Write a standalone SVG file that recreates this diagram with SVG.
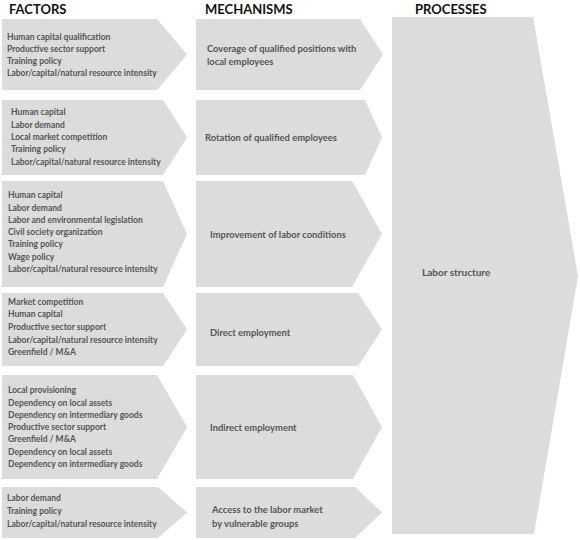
<svg xmlns="http://www.w3.org/2000/svg" width="580" height="540" viewBox="0 0 580 540">
<style>
.bg{fill:#ffffff}
.box{fill:#dcdcdc}
.title{font-family:Lato,"Liberation Sans",sans-serif;font-weight:700;font-size:13px;fill:#111111}
.t{font-family:Lato,"Liberation Sans",sans-serif;font-weight:700;font-size:8.5px;fill:#555555}
.m{font-family:Lato,"Liberation Sans",sans-serif;font-weight:700;font-size:9.4px;fill:#555555}
.p{font-family:Lato,"Liberation Sans",sans-serif;font-weight:700;font-size:10px;fill:#555555}
</style>
<rect class="bg" x="0" y="0" width="580" height="540"/>
<g id="titles">
<text class="title" x="9" y="14">FACTORS</text>
<text class="title" x="205" y="14">MECHANISMS</text>
<text class="title" x="415" y="14">PROCESSES</text>
</g>
<g id="connectors"/>
<g id="process-labor-structure">
<polygon class="box" points="392,17 533,17 578,276 534,534 392,534"/>
<text class="p" x="422" y="276">Labor structure</text>
</g>
<g id="factors-1">
<polygon class="box" points="2,19 157,19 187,54.5 157,90 2,90"/>
<text class="t" x="7" y="40">Human capital qualification</text>
<text class="t" x="7" y="52">Productive sector support</text>
<text class="t" x="7" y="64">Training policy</text>
<text class="t" x="7" y="76">Labor/capital/natural resource intensity</text>
</g>
<g id="factors-2">
<polygon class="box" points="2,100 163,100 187,137.5 163,175 2,175"/>
<text class="t" x="11" y="115">Human capital</text>
<text class="t" x="11" y="128">Labor demand</text>
<text class="t" x="11" y="140">Local market competition</text>
<text class="t" x="11" y="152">Training policy</text>
<text class="t" x="11" y="165">Labor/capital/natural resource intensity</text>
</g>
<g id="factors-3">
<polygon class="box" points="2,181 163,181 187,234 163,287 2,287"/>
<text class="t" x="8" y="198">Human capital</text>
<text class="t" x="8" y="211">Labor demand</text>
<text class="t" x="8" y="223">Labor and environmental legislation</text>
<text class="t" x="8" y="235">Civil society organization</text>
<text class="t" x="8" y="247">Training policy</text>
<text class="t" x="8" y="260">Wage policy</text>
<text class="t" x="8" y="272">Labor/capital/natural resource intensity</text>
</g>
<g id="factors-4">
<polygon class="box" points="2,293 163,293 187,329.5 163,366 2,366"/>
<text class="t" x="8" y="305">Market competition</text>
<text class="t" x="8" y="317">Human capital</text>
<text class="t" x="8" y="330">Productive sector support</text>
<text class="t" x="8" y="343">Labor/capital/natural resource intensity</text>
<text class="t" x="8" y="355">Greenfield / M&amp;A</text>
</g>
<g id="factors-5">
<polygon class="box" points="2,375 157,375 187,427 157,479 2,479"/>
<text class="t" x="8" y="393">Local provisioning</text>
<text class="t" x="8" y="406">Dependency on local assets</text>
<text class="t" x="8" y="418">Dependency on intermediary goods</text>
<text class="t" x="8" y="430">Productive sector support</text>
<text class="t" x="8" y="442">Greenfield / M&amp;A</text>
<text class="t" x="8" y="455">Dependency on local assets</text>
<text class="t" x="8" y="467">Dependency on intermediary goods</text>
</g>
<g id="factors-6">
<polygon class="box" points="2,487 158,487 187,512.5 158,538 2,538"/>
<text class="t" x="7" y="501">Labor demand</text>
<text class="t" x="7" y="514">Training policy</text>
<text class="t" x="7" y="527">Labor/capital/natural resource intensity</text>
</g>
<g id="mechanism-1">
<polygon class="box" points="196,19 360,19 383,54.5 360,90 196,90"/>
<text class="m" x="207" y="52">Coverage of qualified positions with</text>
<text class="m" x="207" y="65">local employees</text>
</g>
<g id="mechanism-2">
<polygon class="box" points="196,100 365,100 382,137.5 365,175 196,175"/>
<text class="m" x="205" y="141">Rotation of qualified employees</text>
</g>
<g id="mechanism-3">
<polygon class="box" points="196,181 352,181 382,234 352,287 196,287"/>
<text class="m" x="210" y="238">Improvement of labor conditions</text>
</g>
<g id="mechanism-4">
<polygon class="box" points="196,293 358,293 382,329.5 358,366 196,366"/>
<text class="m" x="210" y="336">Direct employment</text>
</g>
<g id="mechanism-5">
<polygon class="box" points="196,375 353,375 382,427 353,479 196,479"/>
<text class="m" x="210" y="431">Indirect employment</text>
</g>
<g id="mechanism-6">
<polygon class="box" points="196,487 355,487 382,512.5 355,538 196,538"/>
<text class="m" x="212" y="513">Access to the labor market</text>
<text class="m" x="212" y="527">by vulnerable groups</text>
</g>
</svg>
